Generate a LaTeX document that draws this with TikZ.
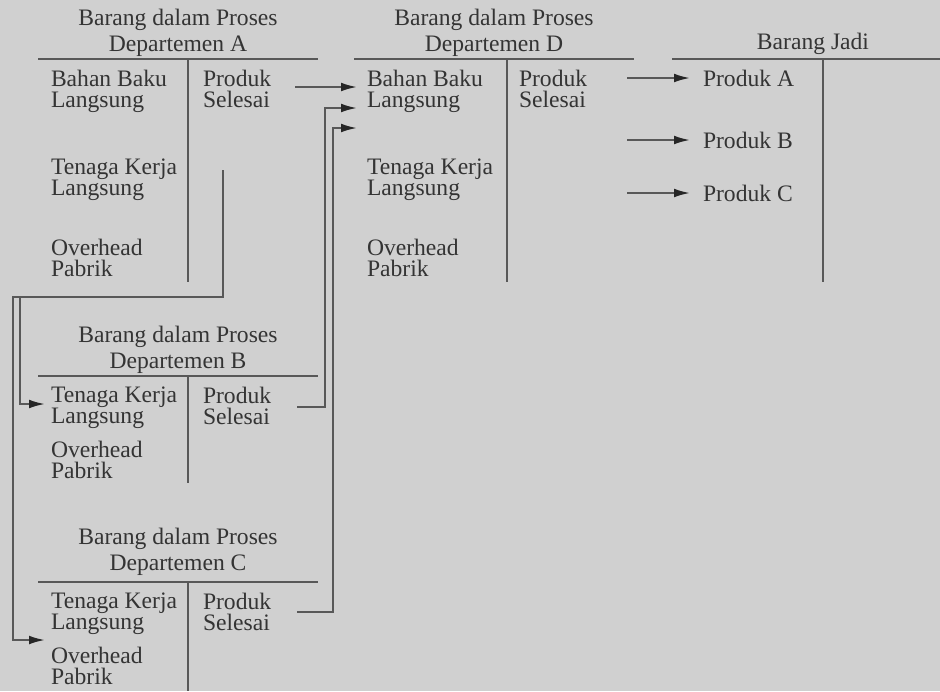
\documentclass[tikz,border=0pt]{standalone}
\usepackage{fontspec}
\setmainfont{Liberation Serif}
\usetikzlibrary{arrows.meta}

\definecolor{latar}{RGB}{208,208,208}
\definecolor{garis}{RGB}{88,88,88}
\definecolor{huruf}{RGB}{52,52,52}

\tikzset{
  akun/.style={align=left,anchor=north west,inner sep=0pt,text=huruf,
    font=\fontsize{11.8}{10.5}\selectfont},
  judul/.style={align=center,inner sep=0pt,text=huruf,
    font=\fontsize{11.8}{13}\selectfont},
  panah/.style={-{Latex[length=8pt,width=4.4pt,color=black!85]}},
}

\begin{document}
\begin{tikzpicture}[x=0.5pt,y=-0.5pt,line width=1pt,color=garis]

\fill[latar] (0,0) rectangle (940,691);
\useasboundingbox (0,0) rectangle (940,691);

\foreach \k/\dx/\vx in {A/0/188,D/316/507}{
\node[judul] (j\k) at (178+\dx,33) {Barang dalam Proses\\Departemen \k};
\draw (38+\dx,59) -- (318+\dx,59);
\draw (\vx,59) -- (\vx,282);
\node[akun] (bb\k) at (50+\dx,69) {Bahan Baku\\Langsung};
\node[akun] (ps\k) at (202+\dx,69) {Produk\\Selesai};
\node[akun] (tk\k) at (50+\dx,158) {Tenaga Kerja\\Langsung};
\node[akun] (oh\k) at (50+\dx,238) {Overhead\\Pabrik};
}

\foreach \k/\dy/\jy/\bawah in {B/0/350/483,C/206/552/691}{
\node[judul] (j\k) at (178,\jy) {Barang dalam Proses\\Departemen \k};
\draw (38,376+\dy) -- (318,376+\dy);
\draw (188,376+\dy) -- (188,\bawah);
\node[akun] (tk\k) at (50,386+\dy) {Tenaga Kerja\\Langsung};
\node[akun] (ps\k) at (202,386+\dy) {Produk\\Selesai};
\node[akun] (oh\k) at (50,440+\dy) {Overhead\\Pabrik};
}

\node[judul] (jJ) at (813,44) {Barang Jadi};
\draw (672,59) -- (940,59);
\draw (823,59) -- (823,282);

\foreach \p/\y in {A/78,B/140,C/193}{
\node[akun,anchor=west] (pj\p) at (702,\y) {Produk \p};
\coordinate (kj\p) at (627,\y);
\draw[panah,shorten >=6pt] (kj\p) -- (pj\p.west);
}

\coordinate (sA) at (295,87);
\coordinate (sB) at (297,407);
\coordinate (sC) at (297,612);
\coordinate (tB) at (325,108);
\coordinate (tC) at (333,128);
\coordinate (d1) at (357,87);
\coordinate (d2) at (357,108);
\coordinate (d3) at (357,128);
\draw[panah] (sA) -- (d1);
\draw[panah] (sB) -| (tB) -- (d2);
\draw[panah] (sC) -| (tC) -- (d3);

\coordinate (sTK) at (223,170);
\coordinate (kiri) at (13,297);
\coordinate (cab) at (20,297);
\coordinate (mB) at (45,404);
\coordinate (mC) at (45,640);
\draw[panah] (sTK) |- (kiri) |- (mC);
\draw[panah] (cab) |- (mB);

\end{tikzpicture}
\end{document}
